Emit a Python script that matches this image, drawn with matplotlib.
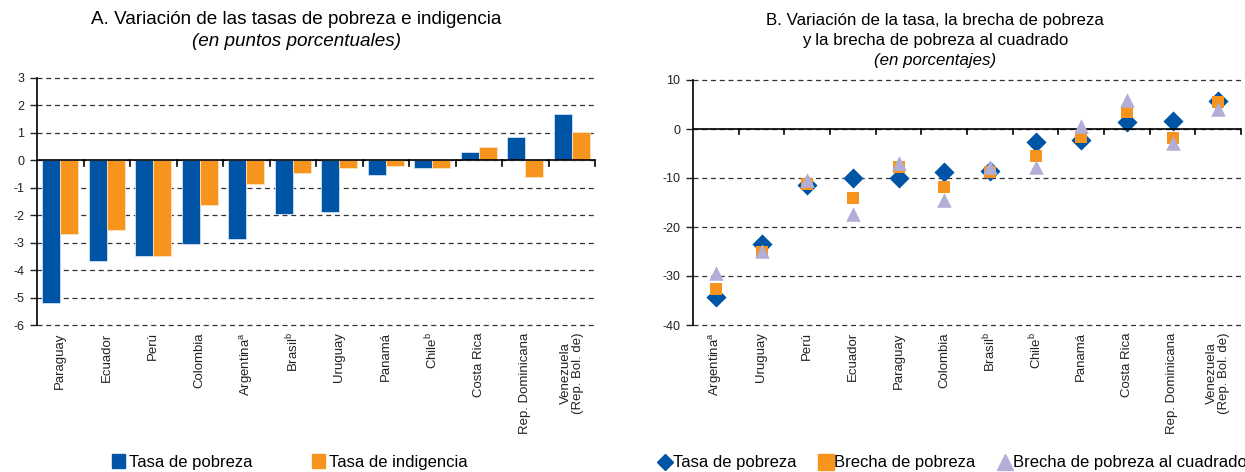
import numpy as np
import matplotlib
matplotlib.use('Agg')
import matplotlib.pyplot as plt
import matplotlib.transforms as mtransforms
from matplotlib.lines import Line2D
from matplotlib.patches import Patch

plt.rcParams['font.family'] = ['Liberation Sans', 'DejaVu Sans']
plt.rcParams['mathtext.fontset'] = 'custom'
plt.rcParams['mathtext.rm'] = 'Liberation Sans'

# Panel A data
paises_a = ['Paraguay', 'Ecuador', 'Perú', 'Colombia', 'Argentina$^{\\mathrm{a}}$',
            'Brasil$^{\\mathrm{b}}$', 'Uruguay', 'Panamá', 'Chile$^{\\mathrm{b}}$',
            'Costa Rica', 'Rep. Dominicana', 'Venezuela\n(Rep. Bol. de)']
tasa_pobreza_a = [-5.2, -3.65, -3.5, -3.05, -2.88, -1.95, -1.88, -0.54, -0.29, 0.29, 0.85, 1.7]
tasa_indigencia_a = [-2.7, -2.55, -3.5, -1.62, -0.87, -0.46, -0.29, -0.21, -0.29, 0.48, -0.61, 1.02]
yticks_a = [3, 2, 1, 0, -1, -2, -3, -4, -5, -6]

# Panel B data
paises_b = ['Argentina$^{\\mathrm{a}}$', 'Uruguay', 'Perú', 'Ecuador', 'Paraguay', 'Colombia',
            'Brasil$^{\\mathrm{b}}$', 'Chile$^{\\mathrm{b}}$', 'Panamá', 'Costa Rica',
            'Rep. Dominicana', 'Venezuela\n(Rep. Bol. de)']
tasa_pobreza_b = [-34.2, -23.4, -11.5, -9.9, -10.1, -8.7, -8.5, -2.7, -2.2, 1.4, 1.6, 5.8]
brecha_b = [-32.7, -25.2, -11.2, -14.1, -7.8, -11.8, -8.7, -5.5, -1.7, 3.5, -1.8, 5.6]
brecha_cuad_b = [-29.3, -24.8, -10.5, -17.3, -6.9, -14.5, -7.8, -7.8, 0.7, 5.9, -2.8, 4.1]
yticks_b = [10, 0, -10, -20, -30, -40]

AZUL = '#0054A6'
NARANJA = '#F7941D'
LILA = '#B3AED8'

fig = plt.figure(figsize=(12.45, 4.72), dpi=100)
ax_a = fig.add_axes([37/1245, 1-325/472, (595-37)/1245, (325-78)/472])
ax_b = fig.add_axes([693/1245, 1-325/472, (1241-693)/1245, (325-80)/472])


def estilo_ejes(ax, n, yticks):
    ax.set_xlim(0, n)
    ax.set_ylim(min(yticks), max(yticks))
    ax.set_yticks(yticks)
    ax.set_yticklabels([str(t) for t in yticks])
    for t in yticks:
        ax.axhline(t, color='#333333', lw=0.9, ls=(0, (4, 3)), zorder=0, clip_on=False)
    ax.axhline(0, color='black', lw=1.2, zorder=3)
    for s in ['top', 'right', 'bottom']:
        ax.spines[s].set_visible(False)
    ax.spines['left'].set_linewidth(1.2)
    ax.tick_params(axis='y', length=5, width=1, labelsize=9, pad=4, colors='#222222')
    ax.set_xticks([])
    # marcas de separacion entre categorias, bajo la linea del cero
    trans = mtransforms.blended_transform_factory(ax.transData, ax.transAxes)
    y0 = ax.transLimits.transform((0, 0))[1]
    for b in range(1, n + 1):
        ax.plot([b, b], [y0, y0 - 0.022], color='black', lw=1.2, transform=trans, clip_on=False)


n = len(paises_a)
x = np.arange(n) + 0.5
w = 0.39
ax_a.bar(x - w/2, tasa_pobreza_a, width=w, color=AZUL, edgecolor='#cfe0f5', linewidth=0.6, zorder=2)
ax_a.bar(x + w/2, tasa_indigencia_a, width=w, color=NARANJA, edgecolor='#fde3c0', linewidth=0.6, zorder=2)
estilo_ejes(ax_a, n, yticks_a)
trans_a = mtransforms.blended_transform_factory(ax_a.transData, ax_a.transAxes)
for xi, lab in zip(x, paises_a):
    ax_a.text(xi, -0.03, lab, rotation=90, ha='center', va='top', fontsize=9.5,
              transform=trans_a, linespacing=1.0, color='#222222')

xb = np.arange(len(paises_b)) + 0.5
ax_b.scatter(xb, tasa_pobreza_b, marker='D', s=105, color=AZUL, zorder=3, linewidths=0)
ax_b.scatter(xb, brecha_b, marker='s', s=64, color=NARANJA, zorder=4, linewidths=0)
ax_b.scatter(xb, brecha_cuad_b, marker='^', s=110, color=LILA, zorder=5, linewidths=0)
estilo_ejes(ax_b, len(paises_b), yticks_b)
trans_b = mtransforms.blended_transform_factory(ax_b.transData, ax_b.transAxes)
for xi, lab in zip(xb, paises_b):
    ax_b.text(xi, -0.03, lab, rotation=90, ha='center', va='top', fontsize=9.5,
              transform=trans_b, linespacing=1.0, color='#222222')

# titulos
fig.text(296/1245, 1-20/472, 'A. Variación de las tasas de pobreza e indigencia',
         ha='center', va='center', fontsize=13.6)
fig.text(296/1245, 1-42/472, '(en puntos porcentuales)', ha='center', va='center',
         fontsize=13.6, style='italic')
fig.text(935/1245, 1-20/472, 'B. Variación de la tasa, la brecha de pobreza',
         ha='center', va='center', fontsize=12.2)
fig.text(935/1245, 1-40/472, 'y la brecha de pobreza al cuadrado',
         ha='center', va='center', fontsize=12.2)
fig.text(935/1245, 1-60/472, '(en porcentajes)', ha='center', va='center',
         fontsize=12.2, style='italic')

# leyendas
fuente_ley = {'family': ['Liberation Sans'], 'size': 12}
h_a = [Patch(color=AZUL), Patch(color=NARANJA)]
fig.legend(h_a, ['Tasa de pobreza', 'Tasa de indigencia'], loc='center',
           bbox_to_anchor=(290/1245, 1-462/472), ncol=2, frameon=False, prop=fuente_ley,
           handlelength=0.75, handleheight=0.9, handletextpad=0.25, columnspacing=3.6)
h_b = [Line2D([], [], marker='D', color=AZUL, ls='', markersize=8),
       Line2D([], [], marker='s', color=NARANJA, ls='', markersize=11),
       Line2D([], [], marker='^', color=LILA, ls='', markersize=11)]
fig.legend(h_b, ['Tasa de pobreza', 'Brecha de pobreza', 'Brecha de pobreza al cuadrado'],
           loc='center', bbox_to_anchor=(953/1245, 1-463/472), ncol=3, frameon=False,
           prop=fuente_ley, handlelength=0.75, handletextpad=0.1, columnspacing=1.4)

fig.savefig('out.png', dpi=100)
